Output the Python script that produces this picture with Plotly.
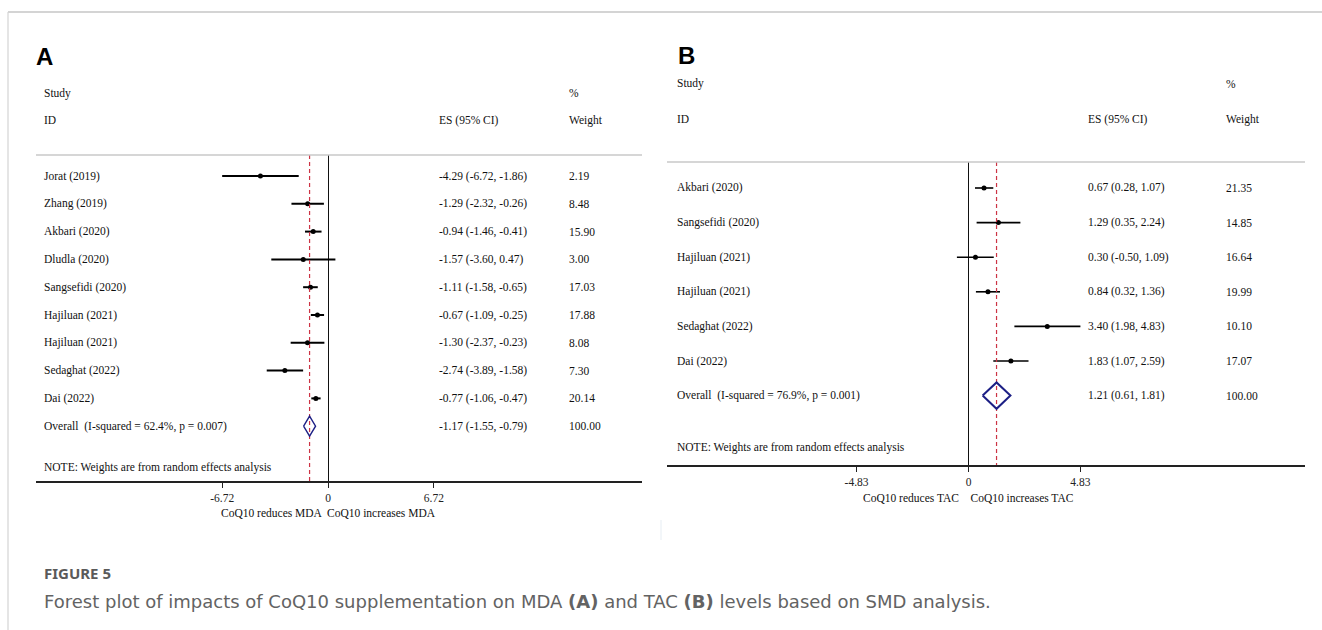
import plotly.graph_objects as go

# ---------------- data ----------------
studies_A = ["Jorat (2019)", "Zhang (2019)", "Akbari (2020)", "Dludla (2020)", "Sangsefidi (2020)",
             "Hajiluan (2021)", "Hajiluan (2021)", "Sedaghat (2022)", "Dai (2022)"]
es_A = [-4.29, -1.29, -0.94, -1.57, -1.11, -0.67, -1.30, -2.74, -0.77]
lo_A = [-6.72, -2.32, -1.46, -3.60, -1.58, -1.09, -2.37, -3.89, -1.06]
hi_A = [-1.86, -0.26, -0.41, 0.47, -0.65, -0.25, -0.23, -1.58, -0.47]
w_A = [2.19, 8.48, 15.90, 3.00, 17.03, 17.88, 8.08, 7.30, 20.14]
overall_A = [-1.17, -1.55, -0.79]
overall_label_A = "Overall  (I-squared = 62.4%, p = 0.007)"
ticks_A = [-6.72, 0, 6.72]
title_A = "CoQ10 reduces MDA  CoQ10 increases MDA"

studies_B = ["Akbari (2020)", "Sangsefidi (2020)", "Hajiluan (2021)", "Hajiluan (2021)",
             "Sedaghat (2022)", "Dai (2022)"]
es_B = [0.67, 1.29, 0.30, 0.84, 3.40, 1.83]
lo_B = [0.28, 0.35, -0.50, 0.32, 1.98, 1.07]
hi_B = [1.07, 2.24, 1.09, 1.36, 4.83, 2.59]
w_B = [21.35, 14.85, 16.64, 19.99, 10.10, 17.07]
overall_B = [1.21, 0.61, 1.81]
overall_label_B = "Overall  (I-squared = 76.9%, p = 0.001)"
ticks_B = [-4.83, 0, 4.83]
title_B = "CoQ10 reduces TAC    CoQ10 increases TAC"

note = "NOTE: Weights are from random effects analysis"

# ---------------- layout helpers ----------------
W, H = 1322, 630
SERIF = "Liberation Serif, Times New Roman, serif"
FS = 11.5


def px(x):
    return x / W


def py(y):
    return 1 - y / H


def fmt(v):
    return f"{v:.2f}"


fig = go.Figure()
annotations = []
shapes = []


def panel(xa, ya, studies, es, lo, hi, w, overall, overall_label, ticks, title,
          left_px, right_px, zero_px, unit_px, top_px, bottom_px, row0_px, row_px,
          name_x, es_x, w_x, hdr, label, label_xy, note_y, title_y, diamond_h,
          ci_w, diamond_w):
    xref = "x" if xa == "xaxis" else "x" + xa[5:]
    yref = "y" if ya == "yaxis" else "y" + ya[5:]
    n = len(studies)
    rows = list(range(n))
    o_row = n
    # CI lines + point estimates
    fig.add_trace(go.Scatter(
        x=es, y=rows, mode="markers", xaxis=xref, yaxis=yref,
        marker=dict(color="black", size=5, symbol="circle"),
        error_x=dict(type="data", symmetric=False,
                     array=[h - e for h, e in zip(hi, es)],
                     arrayminus=[e - l for e, l in zip(es, lo)],
                     width=0, thickness=ci_w, color="black"),
        hoverinfo="skip"))
    # overall dashed line
    y_top = -(row0_px - top_px) / row_px
    y_bot = (bottom_px - row0_px) / row_px
    fig.add_trace(go.Scatter(
        x=[overall[0], overall[0]], y=[y_top, y_bot], mode="lines",
        xaxis=xref, yaxis=yref,
        line=dict(color="#cc3344", width=1.2, dash="4px,3px"), hoverinfo="skip"))
    # diamond
    e, l, h = overall
    fig.add_trace(go.Scatter(
        x=[l, e, h, e, l], y=[o_row, o_row - diamond_h, o_row, o_row + diamond_h, o_row],
        mode="lines", xaxis=xref, yaxis=yref,
        line=dict(color="#1c1f85", width=diamond_w), hoverinfo="skip"))

    x0 = (left_px - zero_px) / unit_px
    x1 = (right_px - zero_px) / unit_px
    fig.layout[xa] = dict(
        domain=[px(left_px), px(right_px)], range=[x0, x1], anchor=yref,
        showgrid=False, zeroline=True, zerolinecolor="#111", zerolinewidth=1.2,
        showline=True, linecolor="#222", linewidth=1.5,
        tickmode="array", tickvals=ticks, ticktext=[f"{t:g}" for t in ticks],
        ticks="outside", ticklen=5, tickwidth=1, tickcolor="#222",
        tickfont=dict(family=SERIF, size=FS, color="#222"), fixedrange=True)
    fig.layout[ya] = dict(
        domain=[py(bottom_px), py(top_px)], range=[y_bot, y_top], anchor=xref,
        showgrid=False, zeroline=False, showticklabels=False, showline=False,
        fixedrange=True)
    # top separator
    shapes.append(dict(type="line", xref="paper", yref="paper",
                       x0=px(left_px), x1=px(right_px), y0=py(top_px), y1=py(top_px),
                       line=dict(color="#c8c8c8", width=1.5)))

    def txt(x, y, s, yr="paper", size=FS, **kw):
        annotations.append(dict(x=x, y=y, xref="paper", yref=yr, text=s, showarrow=False,
                                xanchor="left", yanchor="middle",
                                font=dict(family=SERIF, size=size, color="#111"), **kw))

    # rows
    for i in rows:
        txt(px(name_x), i, studies[i], yr=yref)
        txt(px(es_x), i, f"{fmt(es[i])} ({fmt(lo[i])}, {fmt(hi[i])})", yr=yref)
        txt(px(w_x), i, fmt(w[i]), yr=yref)
    txt(px(name_x), o_row, overall_label, yr=yref)
    txt(px(es_x), o_row, f"{fmt(e)} ({fmt(l)}, {fmt(h)})", yr=yref)
    txt(px(w_x), o_row, fmt(sum(w)), yr=yref)
    txt(px(name_x), py(note_y), note)
    # headers
    txt(px(name_x), py(hdr[0]), "Study")
    txt(px(w_x), py(hdr[0]), "%")
    txt(px(name_x), py(hdr[1]), "ID")
    txt(px(es_x), py(hdr[1]), "ES (95% CI)")
    txt(px(w_x), py(hdr[1]), "Weight")
    # axis title
    annotations.append(dict(x=0, y=py(title_y), xref=xref, yref="paper", text=title,
                            showarrow=False, xanchor="center", yanchor="middle",
                            font=dict(family=SERIF, size=FS, color="#111")))
    # panel label
    annotations.append(dict(x=px(label_xy[0]), y=py(label_xy[1]), xref="paper", yref="paper",
                            text=f"<b>{label}</b>", showarrow=False, xanchor="left",
                            yanchor="middle",
                            font=dict(family="Liberation Sans, Arial, sans-serif", size=24,
                                      color="black")))


panel("xaxis", "yaxis", studies_A, es_A, lo_A, hi_A, w_A, overall_A, overall_label_A,
      ticks_A, title_A,
      left_px=36, right_px=642, zero_px=328, unit_px=15.75, top_px=155, bottom_px=481,
      row0_px=176, row_px=27.8, name_x=42, es_x=437, w_x=567, hdr=(93, 120),
      label="A", label_xy=(34, 56), note_y=467, title_y=513, diamond_h=0.36,
      ci_w=2, diamond_w=1.4)

panel("xaxis2", "yaxis2", studies_B, es_B, lo_B, hi_B, w_B, overall_B, overall_label_B,
      ticks_B, title_B,
      left_px=667, right_px=1305, zero_px=968.5, unit_px=23.17, top_px=162, bottom_px=465,
      row0_px=188, row_px=34.6, name_x=675, es_x=1086, w_x=1224, hdr=(84, 119),
      label="B", label_xy=(676, 55), note_y=447, title_y=498, diamond_h=0.38,
      ci_w=1.6, diamond_w=2)

# page frame
shapes.append(dict(type="line", xref="paper", yref="paper", x0=px(8), x1=1, y0=py(12), y1=py(12),
                   line=dict(color="#d4d4d4", width=2)))
shapes.append(dict(type="line", xref="paper", yref="paper", x0=px(8), x1=px(8), y0=py(12), y1=0,
                   line=dict(color="#d4d4d4", width=1.2)))
shapes.append(dict(type="line", xref="paper", yref="paper", x0=px(661), x1=px(661),
                   y0=py(520), y1=py(540), line=dict(color="#e6edf3", width=1)))

# caption
CAP_FONT = "DejaVu Sans, Verdana, sans-serif"
annotations.append(dict(x=px(42), y=py(573), xref="paper", yref="paper", text="<b>FIGURE 5</b>",
                        showarrow=False, xanchor="left", yanchor="middle",
                        font=dict(family="Noto Sans, Open Sans, sans-serif", size=15,
                                  color="#5a5a5a")))
annotations.append(dict(x=px(42), y=py(601), xref="paper", yref="paper",
                        text="Forest plot of impacts of CoQ10 supplementation on MDA <b>(A)</b> and TAC "
                             "<b>(B)</b> levels based on SMD analysis.",
                        showarrow=False, xanchor="left", yanchor="middle",
                        font=dict(family=CAP_FONT, size=18, color="#636363")))

fig.update_layout(width=W, height=H, margin=dict(l=0, r=0, t=0, b=0),
                  paper_bgcolor="white", plot_bgcolor="white", showlegend=False,
                  annotations=annotations, shapes=shapes, hovermode=False)

fig.write_html("out.html", config={"displayModeBar": False},
               post_script="document.body.style.margin='0px';document.body.style.padding='0px';")
